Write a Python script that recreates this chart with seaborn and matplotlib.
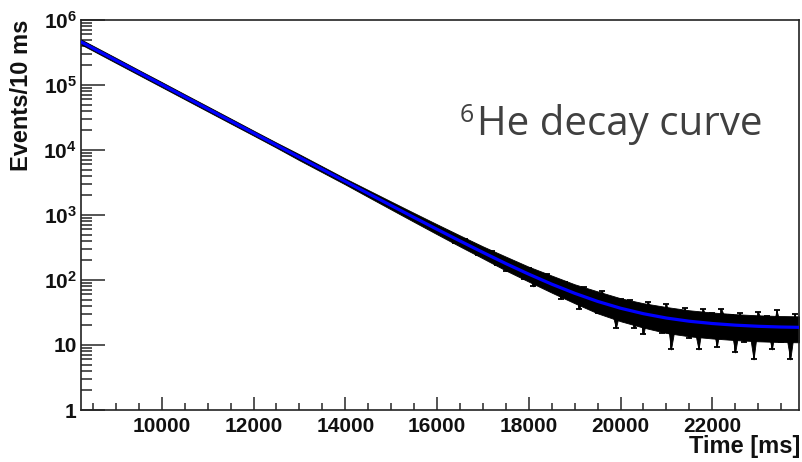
import numpy as np
import pandas as pd
import matplotlib
matplotlib.use("Agg")
import matplotlib.pyplot as plt
import seaborn as sns
from matplotlib.ticker import FixedLocator, MultipleLocator, FuncFormatter, NullFormatter

# ---- fitted decay curve ----
fit_time = [8240, 8500, 9000, 9500, 10000, 10500, 11000, 11500, 12000, 12500,
            13000, 13500, 14000, 14500, 15000, 15500, 16000, 16500, 17000, 17500,
            18000, 18500, 19000, 19500, 20000, 20500, 21000, 21500, 22000, 22500,
            23000, 23500, 23890]
fit_counts = [460000, 367900, 239400, 155800, 101400, 66000, 42970, 27970, 18210, 11860,
              7723, 5032, 3281, 2142, 1400, 917, 603, 399, 266, 179,
              123, 86.3, 62.5, 46.9, 36.8, 30.3, 26.0, 23.2, 21.4, 20.2,
              19.4, 18.9, 18.7]

# ---- dense core of the black data band (envelope) ----
band_high = [503000, 402000, 262000, 170000, 111000, 72100, 47000, 30600, 19900, 13000,
             8590, 5600, 3650, 2425, 1613, 1075, 720, 485, 329, 229,
             160, 117, 85.9, 66.8, 52.4, 43.9, 38.4, 34.2, 31.6, 29.8,
             28.6, 27.9, 27.6]
band_low = [421000, 337000, 219000, 142500, 92800, 60400, 39300, 25600, 16700, 10850,
            6950, 4530, 2950, 1892, 1215, 782, 505, 328, 215, 140,
            94.3, 63.9, 43.9, 30.7, 23.2, 18.5, 15.3, 13.6, 12.6, 11.9,
            11.4, 11.1, 11.0]

# ---- individual data points in the scattered tail (estimated) ----
tail_time = list(range(16000, 23801, 100))
tail_counts = [623, 527, 545, 463, 391, 411, 404, 322, 316, 261,
               284, 238, 259, 184, 200, 149, 183, 153, 153, 116,
               142, 89, 112, 92, 112, 76, 83, 59, 83, 62,
               70, 42, 69, 51, 54, 37, 59, 36, 41, 23,
               44, 33, 43, 23, 35, 19, 40, 24, 32, 20,
               37, 12, 27, 20, 31, 17, 24, 12, 30, 19,
               26, 13, 30, 19, 24, 11, 26, 15, 22, 9,
               27, 17, 23, 12, 29, 15, 20, 9, 25]

x_major = [10000, 12000, 14000, 16000, 18000, 20000, 22000]
y_major = [1, 10, 100, 1000, 10000, 100000, 1000000]
x_label = "Time [ms]"
y_label = "Events/10 ms"
title_text = "He decay curve"
title_sup = "6"

sns.set_theme(style="white")
plt.rcParams['font.family'] = ['Liberation Sans', 'DejaVu Sans']
plt.rcParams['mathtext.fontset'] = 'custom'
plt.rcParams['mathtext.bf'] = 'Liberation Sans:bold'
plt.rcParams['mathtext.rm'] = 'Liberation Sans:bold'

fig = plt.figure(figsize=(8.02, 4.62), dpi=100)
ax = fig.add_axes([81 / 802, 1 - 410 / 462, (799 - 81) / 802, (410 - 20) / 462])

band = pd.DataFrame({"t": fit_time, "lo": band_low, "hi": band_high})
ax.fill_between(band["t"], band["lo"], band["hi"], color="black", lw=0.6, zorder=2)

tail = pd.DataFrame({"t": tail_time, "n": tail_counts})
tail["err"] = np.sqrt(tail["n"])
# jagged fill spanned by neighbouring error bars
ax.fill_between(tail["t"], tail["n"] - tail["err"], tail["n"] + tail["err"],
                color="black", lw=0.6, zorder=2)
ax.errorbar(tail["t"], tail["n"], yerr=tail["err"], fmt="none", ecolor="black",
            elinewidth=1.3, capsize=2.2, capthick=1.3, zorder=3)

fit = pd.DataFrame({"t": fit_time, "n": fit_counts})
sns.lineplot(data=fit, x="t", y="n", ax=ax, color="#0000ff", lw=2.3, zorder=4)

ax.set_yscale("log")
ax.set_xlim(8240, 23890)
ax.set_ylim(1, 1e6)

y_minor = [m * d for d in y_major[:-1] for m in range(2, 10)]
ax.xaxis.set_major_locator(FixedLocator(x_major))
ax.xaxis.set_minor_locator(MultipleLocator(500))
ax.yaxis.set_major_locator(FixedLocator(y_major))
ax.yaxis.set_minor_locator(FixedLocator(y_minor))
ax.yaxis.set_minor_formatter(NullFormatter())
ax.xaxis.set_minor_formatter(NullFormatter())


def yfmt(v, pos):
    e = int(round(np.log10(v)))
    if e == 0:
        return "1"
    if e == 1:
        return "10"
    return r"$\mathbf{10^{%d}}$" % e


ax.yaxis.set_major_formatter(FuncFormatter(yfmt))
ax.xaxis.set_major_formatter(FuncFormatter(lambda v, p: "%d" % v))

ax.tick_params(axis="y", which="major", direction="in", length=17, width=1.1,
               left=True, right=False, pad=3, labelsize=15, labelcolor="#111111")
ax.tick_params(axis="y", which="minor", direction="in", length=8, width=1.1,
               left=True, right=False)
ax.tick_params(axis="x", which="major", direction="in", length=9.5, width=1.1,
               bottom=True, top=False, pad=5, labelsize=15, labelcolor="#111111")
ax.tick_params(axis="x", which="minor", direction="in", length=4.7, width=1.1,
               bottom=True, top=False)
for lab in ax.get_xticklabels() + ax.get_yticklabels():
    lab.set_fontweight("bold")

for s in ax.spines.values():
    s.set_color("#222222")
    s.set_linewidth(1.2)

ax.set_xlabel("")
ax.set_ylabel("")
fig.text(800 / 802, 1 - 447 / 462, x_label, ha="right", va="center",
         fontsize=17, fontweight="bold", color="#111111")
fig.text(22 / 802, 1 - 20 / 462, y_label, rotation=90, ha="center", va="top",
         fontsize=17, fontweight="bold", color="#111111")

fig.text(477 / 802, 1 - 135 / 462, title_text, ha="left", va="baseline",
         fontsize=29, family="Open Sans", color="#404040", fontweight="normal")
fig.text(460 / 802, 1 - 122 / 462, title_sup, ha="left", va="baseline",
         fontsize=18, family="Open Sans", color="#404040", fontweight="normal")

fig.savefig("out.png", dpi=100)
